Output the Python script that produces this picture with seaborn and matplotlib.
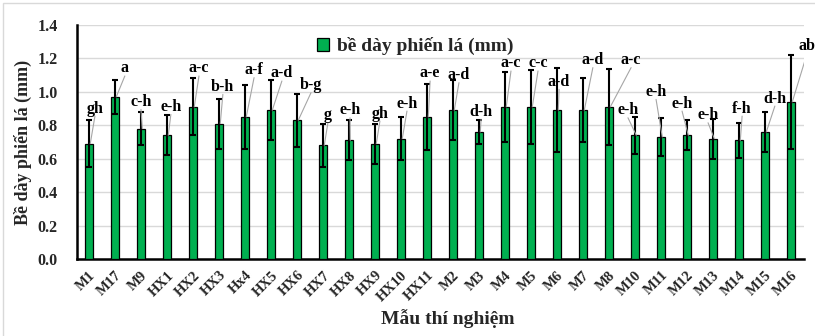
import matplotlib
matplotlib.use("Agg")
import matplotlib.pyplot as plt
import seaborn as sns
import pandas as pd
from matplotlib.patches import Rectangle

samples = ["M1", "M17", "M9", "HX1", "HX2", "HX3", "Hx4", "HX5", "HX6", "HX7",
           "HX8", "HX9", "HX10", "HX11", "M2", "M3", "M4", "M5", "M6", "M7",
           "M8", "M10", "M11", "M12", "M13", "M14", "M15", "M16"]
thickness = [0.69, 0.97, 0.78, 0.74, 0.91, 0.81, 0.85, 0.89, 0.83, 0.68,
             0.71, 0.69, 0.72, 0.85, 0.89, 0.76, 0.91, 0.91, 0.89, 0.89,
             0.91, 0.74, 0.73, 0.74, 0.72, 0.71, 0.76, 0.94]
errors = [0.14, 0.10, 0.10, 0.12, 0.17, 0.15, 0.19, 0.18, 0.16, 0.13,
          0.12, 0.12, 0.13, 0.20, 0.18, 0.07, 0.21, 0.22, 0.25, 0.19,
          0.225, 0.11, 0.115, 0.09, 0.12, 0.105, 0.12, 0.28]
letters = ["gh", "a", "c-h", "e-h", "a-c", "b-h", "a-f", "a-d", "b-g", "g",
           "e-h", "gh", "e-h", "a-e", "a-d", "d-h", "a-c", "c-c", "a-d", "a-d",
           "a-c", "e-h", "e-h", "e-h", "e-h", "f-h", "d-h", "ab"]
yticks = [0.0, 0.2, 0.4, 0.6, 0.8, 1.0, 1.2, 1.4]

# layout of the letter labels: (x offset in categories, label centre height)
label_pos = [(0.23, 0.90), (0.38, 1.14), (0.0, 0.94), (0.15, 0.91), (0.23, 1.14),
             (0.15, 1.03), (0.35, 1.13), (0.42, 1.11), (0.54, 1.04), (0.19, 0.86),
             (0.04, 0.89), (0.19, 0.87), (0.23, 0.93), (0.12, 1.11), (0.23, 1.10),
             (0.08, 0.88), (0.23, 1.17), (0.27, 1.17), (0.08, 1.06), (0.38, 1.19),
             (0.85, 1.19), (-0.27, 0.89), (-0.19, 1.00), (-0.19, 0.93), (-0.19, 0.86),
             (0.12, 0.90), (0.38, 0.96), (0.62, 1.275)]

df = pd.DataFrame({"sample": samples, "value": thickness, "err": errors})

sns.set_theme(style="white")
plt.rcParams["font.family"] = ["Liberation Serif", "DejaVu Serif"]
plt.rcParams["font.weight"] = "bold"

fig = plt.figure(figsize=(8.15, 3.36), dpi=100)
ax = fig.add_axes([77 / 815, 1 - 259 / 336, 727 / 815, 234 / 336])

green = "#00B050"
sns.barplot(data=df, x="sample", y="value", color=green, saturation=1,
            edgecolor="black", linewidth=0.9, width=0.33, errorbar=None,
            label="bề dày phiến lá (mm)", ax=ax, zorder=3)

xs = list(range(len(samples)))
ax.errorbar(xs, df["value"], yerr=df["err"], fmt="none", ecolor="black",
            elinewidth=1.5, capsize=2.5, capthick=1.5, zorder=4)

for i, (lab, (dx, ly)) in enumerate(zip(letters, label_pos)):
    lx = i + dx
    ax.plot([i + 0.05, lx], [thickness[i], ly - 0.045], color="#a6a6a6",
            linewidth=0.8, zorder=5)
    ax.text(lx, ly, lab, ha="center", va="center", fontsize=11.5,
            fontweight="bold", color="black", zorder=6)

ax.set_ylim(0, 1.4)
ax.set_xlim(-0.46, 27.5)
ax.set_yticks(yticks)
ax.set_yticklabels([f"{t:.1f}" for t in yticks], fontsize=11.5, fontweight="bold")
ax.yaxis.grid(True, color="#d9d9d9", linewidth=1.0)
ax.set_axisbelow(True)
for s in ["top", "right"]:
    ax.spines[s].set_visible(False)
for s in ["left", "bottom"]:
    ax.spines[s].set_color("black")
    ax.spines[s].set_linewidth(1.8)
ax.tick_params(axis="y", length=0, pad=14)
ax.set_xticks(xs)
ax.set_xticklabels(samples, rotation=45, ha="right", rotation_mode="anchor",
                   fontsize=10.5, fontweight="bold")
ax.tick_params(axis="x", length=0, pad=7)

ax.set_xlabel("Mẫu thí nghiệm", fontsize=14, fontweight="bold")
ax.set_ylabel("Bề dày phiến lá (mm)", fontsize=13, fontweight="bold")
ax.xaxis.set_label_coords(0.51, -0.215)
ax.yaxis.set_label_coords(-0.062, 0.5)

leg = ax.legend(loc="center", bbox_to_anchor=(0.465, 0.91), frameon=False,
                prop={"size": 14, "weight": "bold"}, handlelength=0.65,
                handleheight=0.65, handletextpad=0.4)

fig.patches.append(Rectangle((3 / 815, -0.1), 1.2, 1 - 3 / 336 + 0.1,
                             transform=fig.transFigure, fill=False,
                             edgecolor="#d9d9d9", linewidth=1.0))

fig.savefig("out.png", dpi=100)
